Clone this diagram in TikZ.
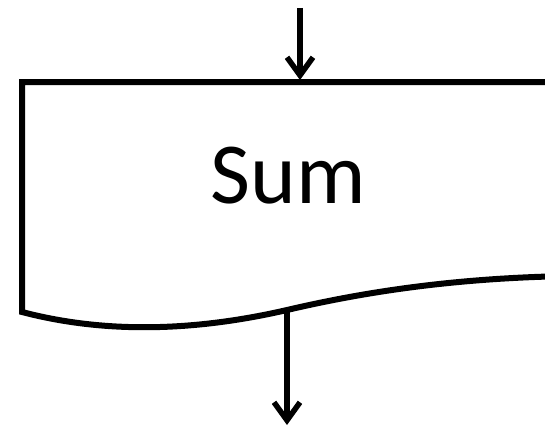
\documentclass[tikz,border=0pt]{standalone}
\usepackage{fontspec}
\newfontfamily\calfont{Carlito}
\usepackage{tikz}
\usetikzlibrary{arrows.meta}

\begin{document}
\begin{tikzpicture}[
  x=1pt,y=-1pt,
  doc/.style={draw=black,line width=6pt,line join=miter},
  flow/.style={draw=black,line width=5.5pt,-{Straight Barb[length=18pt,width=26pt,line width=5.5pt]}},
  lab/.style={font=\calfont\fontsize{87}{96}\selectfont,inner sep=0pt}]

\useasboundingbox (0,0) rectangle (545,428);
\clip (0,0) rectangle (545,428);

% document shape, cut off at the right
\draw[doc] (570,82) -- (22,82) -- (22,312)
  .. controls (110,335) and (200,330) .. (287,310)
  .. controls (360,293) and (450,278) .. (570,276);
\node[lab] (sum) at (288,176) {Sum};

% connectors
\coordinate (in) at (300,8);
\coordinate (top) at (300,80);
\coordinate (bot) at (287,310);
\coordinate (out) at (287,425);
\draw[flow] (in) -- (top);
\draw[flow] (bot) -- (out);
\end{tikzpicture}
\end{document}
